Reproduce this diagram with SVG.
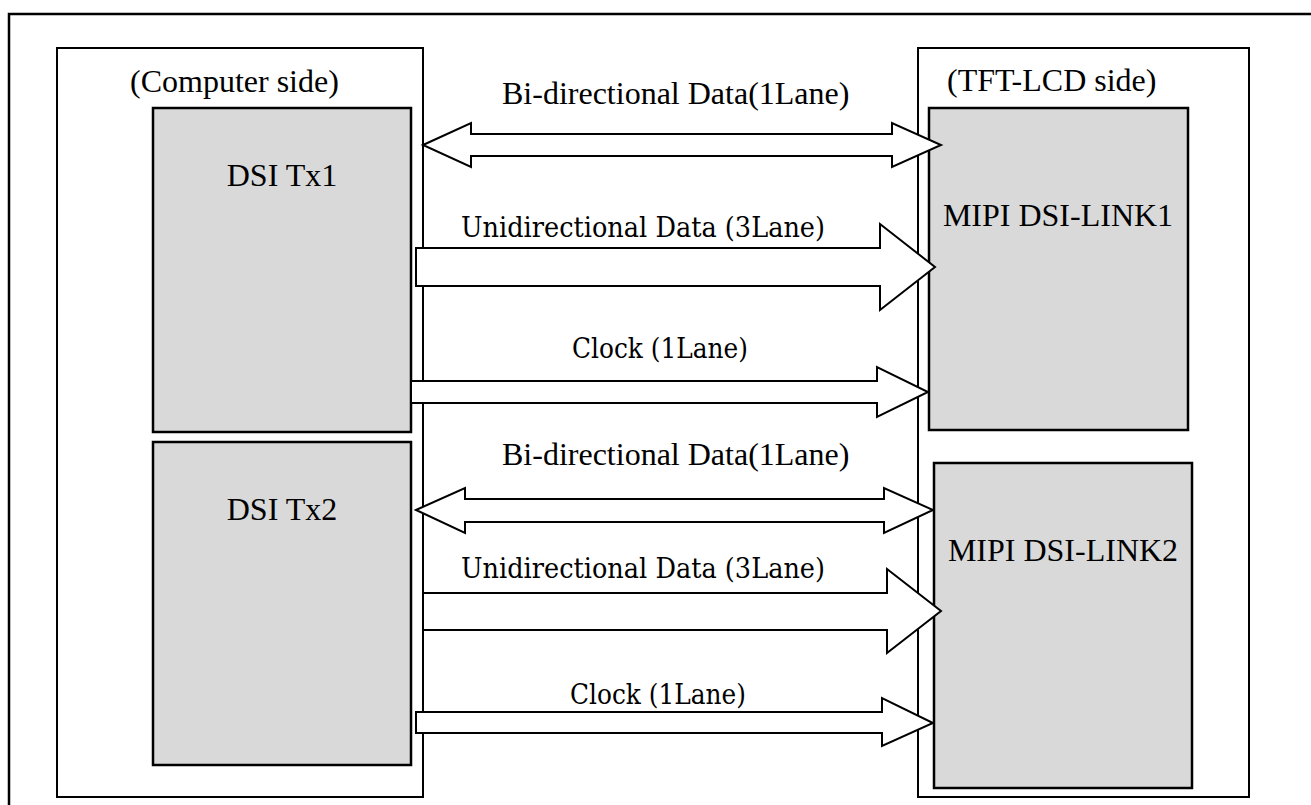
<svg xmlns="http://www.w3.org/2000/svg" width="1311" height="805" viewBox="0 0 1311 805">
  <defs>
    <style>
      .frame { fill: none; stroke: #000; stroke-width: 2.5; }
      .side { fill: #fff; stroke: #000; stroke-width: 2; }
      .block { fill: #d9d9d9; stroke: #000; stroke-width: 2.5; }
      .pipe { fill: #fff; stroke: #000; stroke-width: 2; stroke-linejoin: miter; }
      .t { font-family: "Liberation Serif", "Times New Roman", serif; font-size: 32px; fill: #000; }
      .lane { font-family: "DejaVu Serif", "Liberation Serif", serif; font-size: 27px; fill: #000; }
    </style>
  </defs>

  <rect width="1311" height="805" fill="#fff"/>
  <!-- page frame (continues past the visible area on the right and bottom) -->
  <rect class="frame" x="9" y="14" width="1320" height="820"/>

  <!-- host side -->
  <g id="computer-side">
    <rect class="side" x="57" y="48" width="366" height="749"/>
    <text class="t" x="130" y="92">(Computer side)</text>
  </g>

  <!-- panel side -->
  <g id="lcd-side">
    <rect class="side" x="918" y="48" width="331" height="749"/>
    <text class="t" x="947" y="91">(TFT-LCD side)</text>
  </g>

  <g id="dsi-tx1">
    <rect class="block" x="153" y="108" width="258" height="324"/>
    <text class="t" x="282" y="186" text-anchor="middle">DSI Tx1</text>
  </g>
  <g id="dsi-tx2">
    <rect class="block" x="153" y="442" width="258" height="323"/>
    <text class="t" x="282" y="520" text-anchor="middle">DSI Tx2</text>
  </g>
  <g id="dsi-link1">
    <rect class="block" x="929" y="108" width="259" height="322"/>
    <text class="t" x="1058" y="226" text-anchor="middle">MIPI DSI-LINK1</text>
  </g>
  <g id="dsi-link2">
    <rect class="block" x="934" y="463" width="258" height="325"/>
    <text class="t" x="1063" y="561" text-anchor="middle">MIPI DSI-LINK2</text>
  </g>

  <!-- lanes -->
  <g id="connectors">
    <polygon class="pipe" points="423,145 471,123 471,134 892,134 892,123 941,145 892,167 892,156 471,156 471,167"/>
    <text class="t" x="502" y="104">Bi-directional Data(1Lane)</text>

    <polygon class="pipe" points="416,248 880,248 880,224 935,267 880,310 880,286 416,286"/>
    <text class="lane" x="461" y="237" textLength="364" lengthAdjust="spacingAndGlyphs">Unidirectional Data (3Lane)</text>

    <polygon class="pipe" points="411,381 877,381 877,367 928,392 877,417 877,403 411,403"/>
    <text class="lane" x="572" y="358" textLength="176" lengthAdjust="spacingAndGlyphs">Clock (1Lane)</text>

    <polygon class="pipe" points="416,510 465,488 465,499 884,499 884,488 933,510 884,533 884,522 465,522 465,533"/>
    <text class="t" x="502" y="465">Bi-directional Data(1Lane)</text>

    <polygon class="pipe" points="423,593 887,593 887,569 941,611 887,653 887,630 423,630"/>
    <text class="lane" x="461" y="578" textLength="364" lengthAdjust="spacingAndGlyphs">Unidirectional Data (3Lane)</text>

    <polygon class="pipe" points="416,712 882,712 882,698 933,723 882,746 882,733 416,733"/>
    <text class="lane" x="570" y="704" textLength="176" lengthAdjust="spacingAndGlyphs">Clock (1Lane)</text>
  </g>
</svg>
